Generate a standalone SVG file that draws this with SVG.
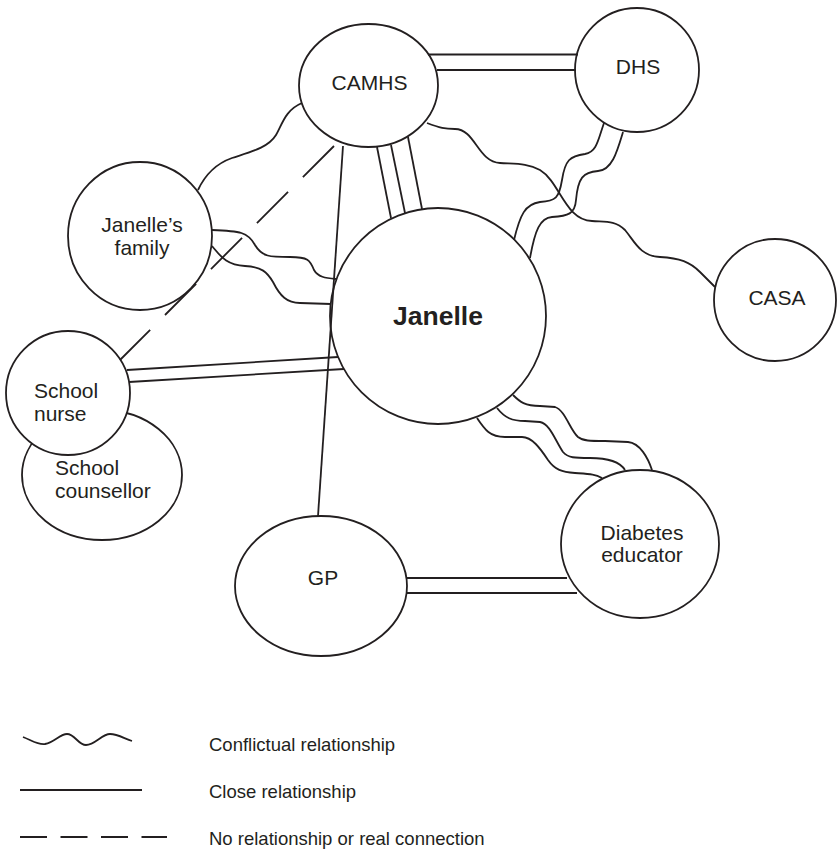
<svg xmlns="http://www.w3.org/2000/svg" width="837" height="850" viewBox="0 0 837 850">
<style>
.n{fill:#fff;stroke:#231f20;stroke-width:1.8}
.c{fill:none;stroke:#231f20;stroke-width:1.8}
.d{fill:none;stroke:#231f20;stroke-width:1.8;stroke-dasharray:44 21}
text{font-family:"Liberation Sans",Arial,Helvetica,sans-serif;fill:#231f20}
.l{font-size:21px}
.m{text-anchor:middle}
.b{font-size:26.5px;font-weight:bold}
.g{font-size:18.5px}
</style>
<rect width="837" height="850" fill="#fff"/>
<g id="nodes">
<g id="school-counsellor"><ellipse class="n" cx="102" cy="475" rx="80" ry="65"/><text class="l" x="55" y="475">School</text><text class="l" x="55" y="498">counsellor</text></g>
<g id="school-nurse"><circle class="n" cx="68" cy="393" r="62"/><text class="l" x="34" y="398">School</text><text class="l" x="34" y="421">nurse</text></g>
<g id="camhs"><ellipse class="n" cx="368.5" cy="85.5" rx="69.5" ry="61.5"/><text class="l m" x="369.5" y="90">CAMHS</text></g>
<g id="dhs"><circle class="n" cx="637" cy="70" r="62"/><text class="l m" x="638" y="74">DHS</text></g>
<g id="family"><ellipse class="n" cx="140" cy="236" rx="72" ry="74"/><text class="l m" x="142" y="232">Janelle’s</text><text class="l m" x="142" y="255">family</text></g>
<g id="janelle"><circle class="n" cx="438" cy="316" r="108"/><text class="b m" x="438" y="325">Janelle</text></g>
<g id="casa"><circle class="n" cx="775" cy="300" r="61"/><text class="l m" x="777" y="305">CASA</text></g>
<g id="gp"><ellipse class="n" cx="321" cy="586" rx="86" ry="70"/><text class="l m" x="323" y="585">GP</text></g>
<g id="diabetes"><ellipse class="n" cx="640" cy="544" rx="79" ry="74"/><text class="l m" x="642" y="540">Diabetes</text><text class="l m" x="642" y="562">educator</text></g>
</g>
<g id="connectors">
<line class="c" x1="428" y1="54.5" x2="578" y2="54.5"/>
<line class="c" x1="437" y1="70" x2="576" y2="70"/>
<path class="c" d="M302,103 C285,110 282,125 276,135 C268,148 250,152 232,158 C215,164 205,175 198,190"/>
<line class="d" x1="334" y1="146" x2="120" y2="360"/>
<line class="c" x1="343" y1="146" x2="318" y2="516"/>
<line class="c" x1="377" y1="147" x2="391" y2="218"/>
<line class="c" x1="391" y1="145" x2="405" y2="213"/>
<line class="c" x1="408" y1="137" x2="422" y2="209"/>
<path class="c" d="M427,123 C440,128 445,129 455,129 C475,129 478,162 500,163 C515,164 528,163 540,170 C560,182 565,220 592,221 C605,222 615,220 625,230 C635,242 640,256 660,257 C680,258 690,262 700,272 L715,287"/>
<path class="c" d="M604,123 C598,140 597,152 585,154 C570,156 565,160 562,180 C559,198 556,201 540,202 C525,204 520,215 514,240"/>
<path class="c" d="M623,132 C617,152 612,170 598,171 C583,172 578,178 576,200 C575,214 568,216 552,217 C540,218 535,230 530,258"/>
<path class="c" d="M212,230 C240,231 248,232 255,245 C262,257 270,257 290,257 C308,257 310,260 314,270 C318,277 325,278 336,279"/>
<path class="c" d="M212,246 C220,255 225,265 245,266 C262,267 267,272 273,282 C280,296 287,303 300,303 L331,304"/>
<line class="c" x1="127" y1="370" x2="338" y2="357"/>
<line class="c" x1="129" y1="382" x2="344" y2="369"/>
<path class="c" d="M477,418 C485,430 490,437 505,437 L522,437 C532,437 540,448 548,460 C555,470 562,472 575,473 C590,474 595,474 602,478"/>
<path class="c" d="M497,408 C505,418 512,421 525,421 L540,422 C550,424 555,440 563,452 C568,458 575,458 590,458 C610,458 620,462 625,470"/>
<path class="c" d="M513,395 C520,402 525,406 540,406 L555,407 C565,410 570,430 578,437 C583,441 590,441 605,441 L628,442 C640,443 648,458 652,470"/>
<line class="c" x1="407" y1="578" x2="567" y2="578"/>
<line class="c" x1="407" y1="593" x2="577" y2="593"/>
</g>
<g id="legend">
<path class="c" d="M23,737 C33,741 38,745 45,744 C55,742 60,734 67,734 C75,734 78,745 86,745 C95,745 102,734 110,734 C118,734 125,739 132,741"/>
<line class="c" x1="20" y1="790" x2="142" y2="790"/>
<line class="c" x1="20" y1="837" x2="167" y2="837" stroke-dasharray="27 13.5"/>
<text class="g" x="209" y="751">Conflictual relationship</text>
<text class="g" x="209" y="798">Close relationship</text>
<text class="g" x="209" y="845">No relationship or real connection</text>
</g>
</svg>
